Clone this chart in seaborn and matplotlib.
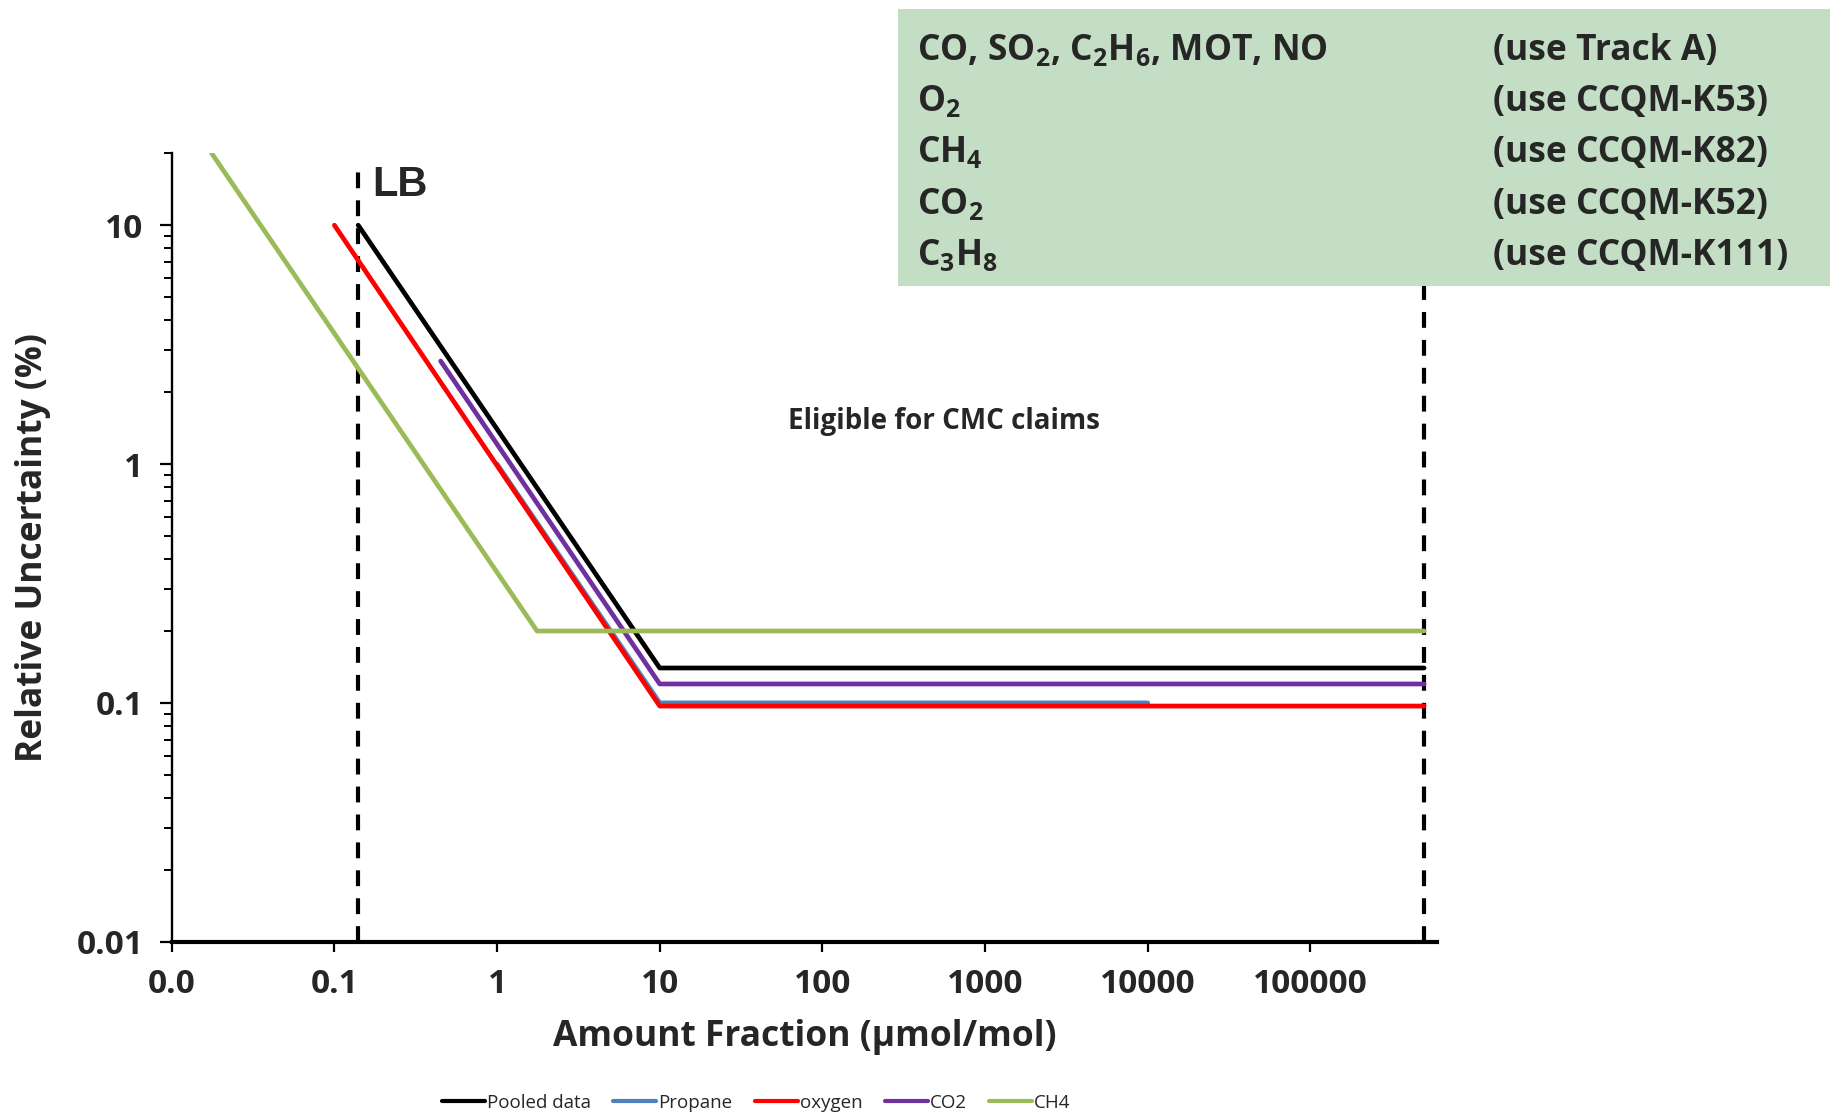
import numpy as np
import pandas as pd
import matplotlib.pyplot as plt
import seaborn as sns
from matplotlib.patches import Rectangle
from matplotlib.ticker import NullFormatter, NullLocator, LogLocator

# series (x in umol/mol, y in % relative uncertainty)
series = ["Pooled data", "Propane", "oxygen", "CO2", "CH4"]
colors = ["#000000", "#4F81BD", "#FF0000", "#7030A0", "#9BBB59"]

pooled_x = [0.14, 10, 500000]
pooled_y = [10, 0.14, 0.14]
propane_x = [1, 10, 10000]
propane_y = [1, 0.1, 0.1]
oxygen_x = [0.1, 10, 500000]
oxygen_y = [10, 0.097, 0.097]
co2_x = [0.45, 10, 500000]
co2_y = [2.7, 0.12, 0.12]
ch4_x = [0.0176, 1.76, 500000]
ch4_y = [20, 0.2, 0.2]

x_ticks = [0.01, 0.1, 1, 10, 100, 1000, 10000, 100000]
x_tick_labels = ["0.0", "0.1", "1", "10", "100", "1000", "10000", "100000"]
y_ticks = [0.01, 0.1, 1, 10]
y_tick_labels = ["0.01", "0.1", "1", "10"]

lb_x = 0.14
ub_x = 500000

box_left = [r"CO, SO$_2$, C$_2$H$_6$, MOT, NO", r"O$_2$", r"CH$_4$", r"CO$_2$", r"C$_3$H$_8$"]
box_right = ["(use Track A)", "(use CCQM-K53)", "(use CCQM-K82)", "(use CCQM-K52)", "(use CCQM-K111)"]

xs = [pooled_x, propane_x, oxygen_x, co2_x, ch4_x]
ys = [pooled_y, propane_y, oxygen_y, co2_y, ch4_y]
df = pd.concat([pd.DataFrame({"x": x, "y": y, "series": s}) for s, x, y in zip(series, xs, ys)],
               ignore_index=True)

sns.set_style("ticks")
plt.rcParams["font.family"] = ["Open Sans", "DejaVu Sans"]
plt.rcParams["mathtext.fontset"] = "custom"
plt.rcParams["mathtext.rm"] = "Open Sans:bold"
plt.rcParams["mathtext.it"] = "Open Sans:bold"
plt.rcParams["mathtext.bf"] = "Open Sans:bold"
plt.rcParams["mathtext.default"] = "rm"

fig = plt.figure(figsize=(18.31, 11.15), dpi=100)
ax = fig.add_axes([0.0938, 0.1554, 0.691, 0.7071])

sns.lineplot(data=df, x="x", y="y", hue="series", hue_order=series,
             palette=dict(zip(series, colors)), sort=False, estimator=None,
             linewidth=3.4, ax=ax)

ax.set_xscale("log")
ax.set_yscale("log")
ax.set_xlim(0.01, 6e5)
ax.set_ylim(0.01, 20)

ax.set_xticks(x_ticks, x_tick_labels)
ax.xaxis.set_minor_locator(NullLocator())
ax.set_yticks(y_ticks, y_tick_labels)
ax.yaxis.set_minor_locator(LogLocator(base=10, subs=np.arange(2, 10)))
ax.yaxis.set_minor_formatter(NullFormatter())

ax.tick_params(axis="both", which="major", labelsize=24, width=1.6, color="black")
ax.tick_params(axis="x", which="major", length=7, pad=12)
ax.tick_params(axis="y", which="major", length=8.5, pad=12)
ax.tick_params(axis="y", which="minor", length=6, width=1.4, color="black")
for lab in ax.get_xticklabels() + ax.get_yticklabels():
    lab.set_fontweight("bold")

sns.despine(ax=ax)
ax.spines["left"].set_linewidth(1.7)
ax.spines["bottom"].set_linewidth(3)
ax.spines["left"].set_color("black")
ax.spines["bottom"].set_color("black")

ax.set_xlabel("Amount Fraction (µmol/mol)", fontsize=25.5, fontweight="bold", labelpad=13)
ax.set_ylabel("Relative Uncertainty (%)", fontsize=25.5, fontweight="bold", labelpad=18)

# LB and upper bound
ax.axvline(lb_x, ymax=0.99, color="black", lw=3, dashes=(3.8, 2.9), zorder=1)
ax.axvline(ub_x, ymax=0.99, color="black", lw=3, dashes=(3.8, 2.9), zorder=1)
ax.text(0.17, 13.2, "LB", fontsize=30, fontweight="bold", family=["Liberation Sans", "DejaVu Sans"],
        va="baseline", ha="left")
ax.text(555, 1.5, "Eligible for CMC claims", fontsize=20, fontweight="bold", ha="center", va="center")

sns.move_legend(ax, "center", bbox_to_anchor=(0.413, 0.011), bbox_transform=fig.transFigure,
                ncol=5, frameon=False, title=None, fontsize=13.5, handlelength=2.3,
                handletextpad=0.1, columnspacing=1.2)
for line in ax.get_legend().get_lines():
    line.set_linewidth(3)

# green info box
fig.add_artist(Rectangle((898 / 1831, 1 - 286 / 1115), (1831 - 898) / 1831, (286 - 9) / 1115,
                         transform=fig.transFigure, facecolor="#C3DEC4", edgecolor="none", zorder=5))
for i, (left, right) in enumerate(zip(box_left, box_right)):
    yb = 1 - (60 + i * 51.2) / 1115
    fig.text(917 / 1831, yb, left, fontsize=25.5, fontweight="bold", va="baseline", zorder=6)
    fig.text(1493 / 1831, yb, right, fontsize=25.5, fontweight="bold", va="baseline", zorder=6)

fig.savefig("out.png", dpi=100)
